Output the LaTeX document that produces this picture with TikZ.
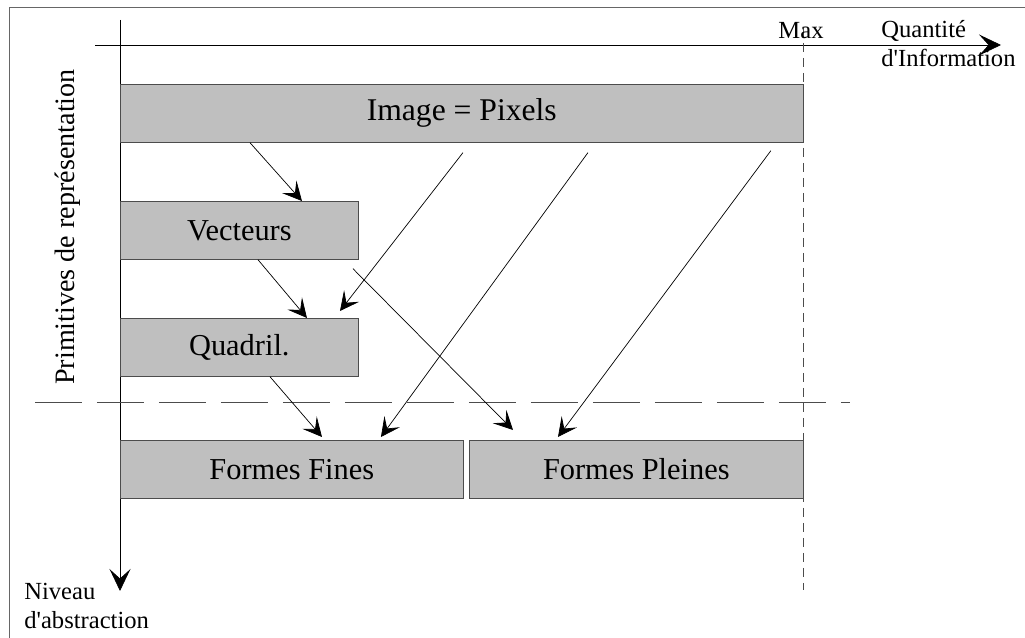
\documentclass[tikz,border=0pt]{standalone}
\usepackage{fontspec}
\setmainfont{Liberation Serif}
\usetikzlibrary{arrows.meta, positioning}

\begin{document}
\begin{tikzpicture}[
        x=0.02cm, y=-0.02cm,
        every node/.style = {align=center, inner sep=0pt},
        box/.style = {rectangle, draw=black!70, fill=black!25, anchor=north west,
                      minimum height=1.16cm, font=\fontsize{17.3}{20}\selectfont},
        lbl/.style = {font=\fontsize{14}{16.5}\selectfont},
        arrow/.style = {-{Stealth[length=3.8mm, width=3.8mm, inset=1.7mm]}, thin},
        axis/.style  = {-{Stealth[length=4.4mm, width=4.2mm, inset=1.9mm]}, thin},
        guide/.style = {draw=black!70, thin}
    ]
    \useasboundingbox (0,0) rectangle (1025,638);

    % --- Frame ---
    \draw[black!60] (9,638) -- (9,7) -- (1025,7);

    % --- Axes ---
    \coordinate (xstart) at (95,45);
    \coordinate (xend)   at (1001,45);
    \coordinate (ystart) at (120,20);
    \coordinate (yend)   at (120,591);
    \draw[axis] (xstart) -- (xend);
    \draw[axis] (ystart) -- (yend);

    % --- Limits (dashed) ---
    \coordinate (maxtop) at (803,28);
    \coordinate (maxbot) at (803,590);
    \coordinate (levl)   at (35,402);
    \coordinate (levr)   at (850,402);
    \draw[guide, dash pattern=on 0.18cm off 0.12cm] (maxtop) -- (maxbot);
    \draw[guide, dash pattern=on 0.94cm off 0.3cm] (levl) -- (levr);

    % --- Axis labels ---
    \node[lbl] (max) at (801,31) {Max};
    \node[lbl, align=left, anchor=west] (qty) at (881,44) {Quantit\'e\\d\textquotesingle Information};
    \node[lbl, align=left, anchor=west] (niv) at (24,606) {Niveau\\d\textquotesingle abstraction};
    \node[font=\fontsize{16}{19}\selectfont, rotate=90] (prim) at (68,227) {Primitives de repr\'esentation};

    % --- Primitives ---
    \node[box, minimum width=13.66cm, font=\fontsize{18}{21}\selectfont] (img) at (120,84) {Image = Pixels};
    \node[box, minimum width=4.76cm] (vec)  at (120,201) {Vecteurs};
    \node[box, minimum width=4.76cm] (quad) at (120,318) {Quadril.};
    \node[box, minimum width=6.86cm] (fines)   at (120,440) {Formes Fines};
    \node[box, minimum width=6.68cm] (pleines) at (469,440) {Formes Pleines};

    % --- Arrows ---
    \draw[arrow] ([xshift=2.6cm]img.south west) -- ([xshift=3.64cm]vec.north west);
    \draw[arrow] ([xshift=6.86cm, yshift=-0.2cm]img.south west) -- ([xshift=4.4cm, yshift=0.14cm]quad.north west);
    \draw[arrow] ([xshift=9.36cm, yshift=-0.2cm]img.south west) -- ([xshift=5.22cm, yshift=0.06cm]fines.north west);
    \draw[arrow] ([xshift=13.02cm, yshift=-0.16cm]img.south west) -- ([xshift=1.78cm, yshift=0.06cm]pleines.north west);
    \draw[arrow] ([xshift=2.76cm]vec.south west) -- ([xshift=3.74cm]quad.north west);
    \draw[arrow] ([xshift=4.66cm, yshift=-0.18cm]vec.south west) -- ([xshift=0.88cm, yshift=0.2cm]pleines.north west);
    \draw[arrow] ([xshift=3cm]quad.south west) -- ([xshift=4.04cm, yshift=0.06cm]fines.north west);

\end{tikzpicture}
\end{document}
